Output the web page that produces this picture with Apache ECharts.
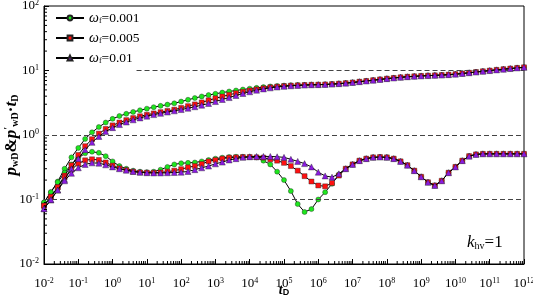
<!DOCTYPE html>
<html>
<head>
<meta charset="utf-8">
<script src="https://cdn.jsdelivr.net/npm/echarts@6/dist/echarts.min.js"></script>
<style>
  html, body { margin: 0; padding: 0; background: #fff; }
  #container { width: 533px; height: 300px; }
</style>
</head>
<body>
<div id="container"></div>
<script>
  // log10(tD) of every sample, 0.2 decade apart
  var tExp = [
    -2, -1.8, -1.6, -1.4, -1.2, -1, -0.8, -0.6, -0.4, -0.2,
    0, 0.2, 0.4, 0.6, 0.8, 1, 1.2, 1.4, 1.6, 1.8,
    2, 2.2, 2.4, 2.6, 2.8, 3, 3.2, 3.4, 3.6, 3.8,
    4, 4.2, 4.4, 4.6, 4.8, 5, 5.2, 5.4, 5.6, 5.8,
    6, 6.2, 6.4, 6.6, 6.8, 7, 7.2, 7.4, 7.6, 7.8,
    8, 8.2, 8.4, 8.6, 8.8, 9, 9.2, 9.4, 9.6, 9.8,
    10, 10.2, 10.4, 10.6, 10.8, 11, 11.2, 11.4, 11.6, 11.8,
    12
  ];

  var omegaNames = ['0.001', '0.005', '0.01'];

  // pwD
  var pwd001 = [
    0.09, 0.13, 0.19, 0.30, 0.45, 0.63, 0.87, 1.10, 1.33, 1.56,
    1.78, 1.97, 2.13, 2.28, 2.42, 2.56, 2.70, 2.83, 2.96, 3.10,
    3.30, 3.52, 3.74, 3.96, 4.16, 4.36, 4.55, 4.73, 4.90, 5.07,
    5.23, 5.38, 5.53, 5.66, 5.76, 5.84, 5.90, 5.94, 5.97, 6.00,
    6.03, 6.08, 6.15, 6.25, 6.37, 6.52, 6.70, 6.88, 7.07, 7.27,
    7.47, 7.66, 7.84, 8.00, 8.13, 8.24, 8.33, 8.41, 8.50, 8.62,
    8.78, 8.98, 9.22, 9.47, 9.72, 9.97, 10.22, 10.47, 10.72, 10.97,
    11.2
  ];
  var pwd005 = [
    0.08, 0.11, 0.155, 0.235, 0.34, 0.49, 0.67, 0.86, 1.05, 1.24,
    1.41, 1.56, 1.70, 1.83, 1.95, 2.06, 2.16, 2.26, 2.36, 2.47,
    2.63, 2.80, 2.98, 3.20, 3.45, 3.70, 3.95, 4.20, 4.45, 4.68,
    4.90, 5.10, 5.30, 5.48, 5.62, 5.73, 5.82, 5.89, 5.95, 6.00,
    6.03, 6.08, 6.15, 6.25, 6.37, 6.52, 6.70, 6.88, 7.07, 7.27,
    7.47, 7.66, 7.84, 8.00, 8.13, 8.24, 8.33, 8.41, 8.50, 8.62,
    8.78, 8.98, 9.22, 9.47, 9.72, 9.97, 10.22, 10.47, 10.72, 10.97,
    11.2
  ];
  var pwd01 = [
    0.072, 0.098, 0.14, 0.205, 0.30, 0.43, 0.59, 0.77, 0.95, 1.13,
    1.30, 1.45, 1.59, 1.72, 1.84, 1.96, 2.07, 2.17, 2.27, 2.37,
    2.48, 2.60, 2.74, 2.90, 3.08, 3.30, 3.55, 3.80, 4.10, 4.40,
    4.68, 4.95, 5.18, 5.38, 5.55, 5.68, 5.79, 5.87, 5.94, 6.00,
    6.03, 6.08, 6.15, 6.25, 6.37, 6.52, 6.70, 6.88, 7.07, 7.27,
    7.47, 7.66, 7.84, 8.00, 8.13, 8.24, 8.33, 8.41, 8.50, 8.62,
    8.78, 8.98, 9.22, 9.47, 9.72, 9.97, 10.22, 10.47, 10.72, 10.97,
    11.2
  ];

  // p'wD * tD
  var dwd001 = [
    0.09, 0.13, 0.185, 0.26, 0.35, 0.44, 0.52, 0.55, 0.53, 0.47,
    0.39, 0.33, 0.30, 0.28, 0.27, 0.265, 0.27, 0.29, 0.32, 0.35,
    0.365, 0.37, 0.375, 0.39, 0.41, 0.43, 0.445, 0.455, 0.46, 0.46,
    0.455, 0.45, 0.40, 0.35, 0.27, 0.20, 0.135, 0.085, 0.064, 0.071,
    0.10, 0.13, 0.175, 0.245, 0.30, 0.35, 0.40, 0.43, 0.45, 0.455,
    0.45, 0.43, 0.39, 0.34, 0.28, 0.225, 0.185, 0.165, 0.195, 0.26,
    0.32, 0.40, 0.47, 0.50, 0.51, 0.51, 0.51, 0.51, 0.51, 0.51,
    0.51
  ];
  var dwd005 = [
    0.08, 0.11, 0.155, 0.22, 0.29, 0.36, 0.405, 0.42, 0.41, 0.375,
    0.335, 0.305, 0.285, 0.27, 0.262, 0.26, 0.26, 0.263, 0.27, 0.28,
    0.295, 0.315, 0.33, 0.355, 0.39, 0.41, 0.43, 0.445, 0.45, 0.455,
    0.455, 0.45, 0.445, 0.42, 0.40, 0.37, 0.33, 0.28, 0.23, 0.19,
    0.165, 0.16, 0.18, 0.235, 0.30, 0.35, 0.40, 0.43, 0.45, 0.455,
    0.45, 0.43, 0.39, 0.34, 0.28, 0.225, 0.185, 0.165, 0.195, 0.26,
    0.32, 0.40, 0.47, 0.50, 0.51, 0.51, 0.51, 0.51, 0.51, 0.51,
    0.51
  ];
  var dwd01 = [
    0.072, 0.10, 0.14, 0.195, 0.255, 0.31, 0.35, 0.37, 0.365, 0.345,
    0.32, 0.30, 0.285, 0.272, 0.265, 0.26, 0.258, 0.258, 0.26, 0.262,
    0.265, 0.272, 0.29, 0.31, 0.33, 0.357, 0.38, 0.41, 0.43, 0.45,
    0.46, 0.465, 0.465, 0.465, 0.46, 0.45, 0.42, 0.39, 0.36, 0.32,
    0.265, 0.232, 0.222, 0.25, 0.30, 0.35, 0.40, 0.43, 0.45, 0.455,
    0.45, 0.43, 0.39, 0.34, 0.28, 0.225, 0.185, 0.165, 0.195, 0.26,
    0.32, 0.40, 0.47, 0.50, 0.51, 0.51, 0.51, 0.51, 0.51, 0.51,
    0.51
  ];

  // dashed reference levels and where each one starts on the t axis
  var refLevels = [10, 1, 0.1];
  var refStart = [5, 0.01, 0.01];

  // decades spanned by each axis (for the 2..9 minor ticks)
  var xDecades = [-2, -1, 0, 1, 2, 3, 4, 5, 6, 7, 8, 9, 10, 11];
  var yDecades = [-2, -1, 0, 1];
  var minorSteps = [2, 3, 4, 5, 6, 7, 8, 9];

  var serif = '"Times New Roman", "Liberation Serif", serif';

  function pairs(vals) {
    return vals.map(function (v, i) { return [Math.pow(10, tExp[i]), v]; });
  }

  function minorVals(decades) {
    var out = [];
    decades.forEach(function (d) {
      minorSteps.forEach(function (m) { out.push(m * Math.pow(10, d)); });
    });
    return out;
  }

  function powLabel(v) {
    var e = Math.round(Math.log(v) / Math.LN10);
    return '{b|10}{e|' + e + '}';
  }

  var powRich = {
    b: { fontFamily: serif, fontSize: 13, color: '#000', lineHeight: 14 },
    e: { fontFamily: serif, fontSize: 8, color: '#000', verticalAlign: 'top', lineHeight: 8 }
  };

  var styles = [
    { symbol: 'circle', size: 5, color: '#1ee61e' },
    { symbol: 'rect', size: 5, color: '#ff1010' },
    { symbol: 'triangle', size: 6, color: '#8a1be0' }
  ];
  var pSets = [pwd001, pwd005, pwd01];
  var dSets = [dwd001, dwd005, dwd01];

  var series = [];
  [0, 1, 2].forEach(function (k) {
    [pSets[k], dSets[k]].forEach(function (vals) {
      series.push({
        name: omegaNames[k],
        type: 'line',
        data: pairs(vals),
        symbol: styles[k].symbol,
        symbolSize: styles[k].size,
        itemStyle: { color: styles[k].color, borderColor: '#222', borderWidth: 0.4 },
        lineStyle: { color: '#000', width: 1 },
        z: 3 + k
      });
    });
  });

  series[0].markLine = {
    silent: true,
    symbol: 'none',
    label: { show: false },
    lineStyle: { color: '#444', type: [5, 3], width: 1 },
    data: refLevels.map(function (y, i) {
      return [{ coord: [refStart[i], y] }, { coord: [1e12, y] }];
    })
  };

  // log-spaced minor ticks, drawn inward from the axes
  series.push({
    type: 'custom',
    silent: true,
    clip: false,
    z: 10,
    data: minorVals(xDecades).map(function (v) { return [v, 0.01]; }),
    renderItem: function (params, api) {
      var p = api.coord([api.value(0), api.value(1)]);
      return { type: 'line', shape: { x1: p[0], y1: p[1], x2: p[0], y2: p[1] - 3 }, style: { stroke: '#000', lineWidth: 1 } };
    }
  });
  series.push({
    type: 'custom',
    silent: true,
    clip: false,
    z: 10,
    data: minorVals(yDecades).map(function (v) { return [0.01, v]; }),
    renderItem: function (params, api) {
      var p = api.coord([api.value(0), api.value(1)]);
      return { type: 'line', shape: { x1: p[0], y1: p[1], x2: p[0] + 3, y2: p[1] }, style: { stroke: '#000', lineWidth: 1 } };
    }
  });

  var chart = echarts.init(document.getElementById('container'));
  var option = {
    animation: false,
    backgroundColor: '#fff',
    grid: {
      left: 44, right: 9, top: 6, bottom: 36,
      containLabel: false, outerBoundsMode: 'none',
      show: true, borderColor: '#000', borderWidth: 1
    },
    legend: {
      data: omegaNames,
      orient: 'vertical',
      left: 50,
      top: 6,
      itemWidth: 28,
      itemHeight: 6,
      itemGap: 6,
      formatter: function (name) {
        return '{w|ω}{s|f}{n|=' + name + '}';
      },
      textStyle: {
        fontFamily: serif,
        fontSize: 13,
        color: '#000',
        rich: {
          w: { fontFamily: serif, fontStyle: 'italic', fontSize: 14, color: '#000', lineHeight: 14 },
          s: { fontFamily: serif, fontSize: 8, color: '#000', verticalAlign: 'bottom', lineHeight: 8, padding: [6, 0, 0, 0] },
          n: { fontFamily: serif, fontSize: 13.5, color: '#000', lineHeight: 14 }
        }
      }
    },
    xAxis: {
      type: 'log',
      logBase: 10,
      min: 0.01,
      max: 1e12,
      interval: 1,
      name: '{t|t}{s|D}',
      nameLocation: 'middle',
      nameGap: 19,
      nameMoveOverlap: false,
      nameTextStyle: {
        rich: {
          t: { fontFamily: serif, fontStyle: 'italic', fontWeight: 'bold', fontSize: 14, color: '#000', lineHeight: 14 },
          s: { fontFamily: 'Liberation Sans, Arial, sans-serif', fontWeight: 'bold', fontSize: 9, color: '#000', verticalAlign: 'bottom', lineHeight: 9, padding: [6, 0, 0, 0] }
        }
      },
      axisLine: { lineStyle: { color: '#000', width: 1 } },
      axisTick: { inside: true, length: 5, lineStyle: { color: '#000' } },
      minorTick: { show: false },
      splitLine: { show: false },
      axisLabel: { formatter: powLabel, rich: powRich, margin: 13, hideOverlap: false, showMinLabel: true, showMaxLabel: true }
    },
    yAxis: {
      type: 'log',
      logBase: 10,
      min: 0.01,
      max: 100,
      interval: 1,
      name: '{p|p}{s|wD}{a|&}{p|p}{u|\u2032}{s|wD}{a|\u00b7}{p|t}{s|D}',
      nameLocation: 'middle',
      nameRotate: 90,
      nameGap: 24,
      nameMoveOverlap: false,
      nameTextStyle: {
        rich: {
          p: { fontFamily: serif, fontStyle: 'italic', fontWeight: 'bold', fontSize: 17, color: '#000', lineHeight: 17 },
          a: { fontFamily: serif, fontWeight: 'bold', fontSize: 17, color: '#000', lineHeight: 17 },
          u: { fontFamily: serif, fontWeight: 'bold', fontSize: 11, color: '#000', verticalAlign: 'top', lineHeight: 11 },
          s: { fontFamily: serif, fontWeight: 'bold', fontSize: 10, color: '#000', verticalAlign: 'bottom', lineHeight: 10, padding: [7, 0, 0, 0] }
        }
      },
      axisLine: { lineStyle: { color: '#000', width: 1 } },
      axisTick: { inside: true, length: 5, lineStyle: { color: '#000' } },
      minorTick: { show: false },
      splitLine: { show: false },
      axisLabel: { formatter: powLabel, rich: powRich, margin: 5 }
    },
    graphic: [{
      type: 'text',
      left: 467,
      top: 234,
      style: {
        text: '{k|k}{s|hv}{n|=1}',
        rich: {
          k: { fontFamily: serif, fontStyle: 'italic', fontSize: 17, fill: '#000', lineHeight: 17 },
          s: { fontFamily: serif, fontSize: 10, fill: '#000', verticalAlign: 'bottom', lineHeight: 10, padding: [7, 0, 0, 0] },
          n: { fontFamily: serif, fontSize: 17, fill: '#000', lineHeight: 17 }
        }
      }
    }],
    series: series
  };
  chart.setOption(option);
</script>
</body>
</html>
